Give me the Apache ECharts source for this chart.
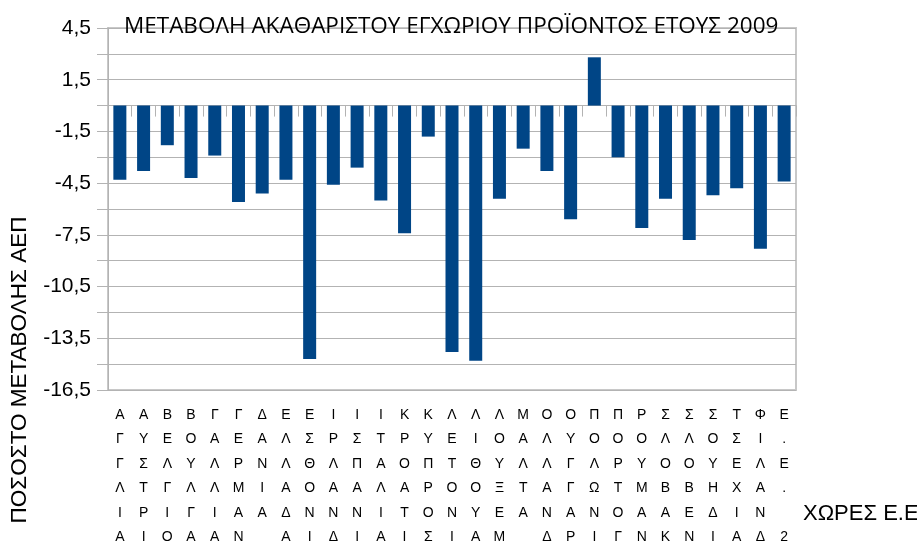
<!DOCTYPE html>
<html>
<head>
<meta charset="utf-8">
<title>ΜΕΤΑΒΟΛΗ ΑΕΠ 2009</title>
<script src="https://cdn.jsdelivr.net/npm/echarts@6/dist/echarts.min.js"></script>
<style>
  html, body { margin: 0; padding: 0; background: #fff; }
  #chart { width: 917px; height: 546px; }
</style>
</head>
<body>
<div id="chart"></div>
<script>
// χώρες (όπως γράφονται κάθετα κάτω από τον άξονα)
var countries = [
  "ΑΓΓΛΙΑ", "ΑΥΣΤΡΙΑ", "ΒΕΛΓΙΟ", "ΒΟΥΛΓΑΡΙΑ", "ΓΑΛΛΙΑ", "ΓΕΡΜΑΝΙΑ",
  "ΔΑΝΙΑ", "ΕΛΛΑΔΑ", "ΕΣΘΟΝΙΑ", "ΙΡΛΑΝΔΙΑ", "ΙΣΠΑΝΙΑ", "ΙΤΑΛΙΑ",
  "ΚΡΟΑΤΙΑ", "ΚΥΠΡΟΣ", "ΛΕΤΟΝΙΑ", "ΛΙΘΟΥΑΝΙΑ", "ΛΟΥΞΕΜΒΟΥΡΓΟ", "ΜΑΛΤΑ",
  "ΟΛΛΑΝΔΙΑ", "ΟΥΓΓΑΡΙΑ", "ΠΟΛΩΝΙΑ", "ΠΟΡΤΟΓΑΛΙΑ", "ΡΟΥΜΑΝΙΑ", "ΣΛΟΒΑΚΙΑ",
  "ΣΛΟΒΕΝΙΑ", "ΣΟΥΗΔΙΑ", "ΤΣΕΧΙΑ", "ΦΙΛΑΝΔΙΑ", "Ε.Ε. 27"
];

// μεταβολή ΑΕΠ 2009 (%)
var gdpChange = [
  -4.3, -3.8, -2.3, -4.2, -2.9, -5.6,
  -5.1, -4.3, -14.7, -4.6, -3.6, -5.5,
  -7.4, -1.8, -14.3, -14.8, -5.4, -2.5,
  -3.8, -6.6, 2.8, -3.0, -7.1, -5.4,
  -7.8, -5.2, -4.8, -8.3, -4.4
];

var yMin = -16.5;
var yMax = 4.5;
var yStep = 1.5;

var chart = echarts.init(document.getElementById("chart"));

var option = {
  backgroundColor: "#fff",
  animation: false,
  title: {
    text: "ΜΕΤΑΒΟΛΗ ΑΚΑΘΑΡΙΣΤΟΥ ΕΓΧΩΡΙΟΥ ΠΡΟΪΟΝΤΟΣ ΕΤΟΥΣ 2009",
    left: 119,
    top: 10,
    textStyle: {
      fontFamily: "Open Sans",
      fontSize: 22.5,
      fontWeight: "normal",
      color: "#000"
    }
  },
  grid: {
    left: 108,
    right: 121,
    top: 28,
    bottom: 156,
    outerBoundsMode: "none",
    containLabel: false,
    show: true,
    borderColor: "#c8c8c8",
    borderWidth: 2
  },
  xAxis: [
    {
      // γραμμή/υποδιαιρέσεις στο μηδέν
      type: "category",
      data: countries,
      position: "bottom",
      axisLine: { onZero: true, lineStyle: { color: "#b3b3b3" } },
      axisTick: { show: true, interval: 0, length: 11, lineStyle: { color: "#b3b3b3" } },
      axisLabel: { show: false },
      splitLine: { show: false }
    },
    {
      // ετικέτες κάτω από το διάγραμμα
      type: "category",
      data: countries,
      position: "bottom",
      axisLine: { show: false, onZero: false },
      axisTick: { show: false },
      splitLine: { show: false },
      axisLabel: {
        interval: 0,
        hideOverlap: false,
        margin: 13,
        fontFamily: "Liberation Sans",
        fontSize: 14,
        lineHeight: 24.4,
        color: "#000",
        verticalAlign: "top",
        formatter: function (name) {
          return name.replace(/ /g, "\u00a0").split("").join("\n");
        }
      }
    }
  ],
  yAxis: {
    type: "value",
    min: yMin,
    max: yMax,
    interval: yStep,
    axisLine: { show: true, lineStyle: { color: "#b3b3b3" } },
    axisTick: { show: true, length: 11, lineStyle: { color: "#b3b3b3" } },
    splitLine: { show: true, lineStyle: { color: "#b3b3b3", width: 1 } },
    axisLabel: {
      margin: 17,
      fontFamily: "Liberation Sans",
      fontSize: 21,
      color: "#000",
      formatter: function (v) {
        var k = (v - yMax) / 3;
        if (Math.abs(k - Math.round(k)) > 1e-6) return "";
        return v.toFixed(1).replace(".", ",");
      }
    }
  },
  graphic: [
    {
      type: "text",
      x: 20,
      y: 370,
      rotation: Math.PI / 2,
      style: {
        text: "ΠΟΣΟΣΤΟ ΜΕΤΑΒΟΛΗΣ ΑΕΠ",
        font: "22.5px 'Liberation Sans'",
        fill: "#000",
        textAlign: "center",
        textVerticalAlign: "middle"
      }
    },
    {
      type: "text",
      x: 803,
      y: 514,
      style: {
        text: "ΧΩΡΕΣ Ε.Ε.",
        font: "22px 'Liberation Sans'",
        fill: "#000",
        textAlign: "left",
        textVerticalAlign: "middle"
      }
    }
  ],
  series: [
    {
      name: "ΜΕΤΑΒΟΛΗ ΑΕΠ",
      type: "bar",
      xAxisIndex: 0,
      data: gdpChange,
      barWidth: 13,
      itemStyle: { color: "#004586" }
    }
  ]
};

chart.setOption(option);
</script>
</body>
</html>
